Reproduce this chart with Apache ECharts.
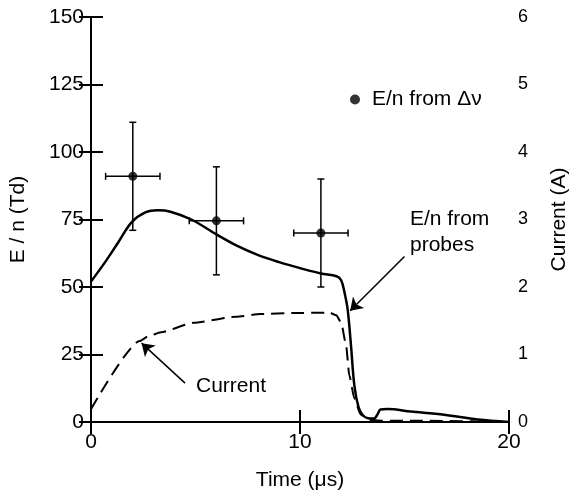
<!DOCTYPE html>
<html>
<head>
<meta charset="utf-8">
<script src="https://cdn.jsdelivr.net/npm/echarts@6/dist/echarts.min.js"></script>
<style>
html,body{margin:0;padding:0;background:#fff;}
#chart{width:578px;height:496px;}
</style>
</head>
<body>
<div id="chart"></div>
<script>
// E/n from probes (left axis, Td)
const probeT = [0, 0.7, 1.3, 1.95, 2.6, 3.2, 3.8, 4.8, 6.0, 7.0, 8.0, 9.0, 10.0, 11.0, 11.75, 11.97, 12.13, 12.28, 12.44, 12.6, 12.8, 13.0, 13.25, 13.55, 13.72, 13.85, 14.2, 15.3, 16.9, 18.5, 20];
const probeE = [52, 59.5, 66.5, 74, 77.6, 78.4, 77.9, 75, 69.5, 65.2, 61.8, 59.2, 57, 55, 54, 52.5, 48, 41.7, 28.3, 13.6, 5.5, 2.6, 1.4, 1.3, 3.0, 4.6, 4.8, 3.9, 2.7, 0.9, 0];
// Current (right axis, A)
const curT = [0, 2.33, 2.75, 3.35, 4.9, 6.95, 8.1, 9.7, 11.42, 11.74, 11.97, 12.2, 12.36, 12.6, 12.9, 13.3, 13.9, 15.6, 20];
const curA = [0.19, 1.2, 1.27, 1.33, 1.47, 1.56, 1.6, 1.615, 1.62, 1.58, 1.47, 1.15, 0.69, 0.35, 0.11, 0.03, 0.02, 0.02, 0];
// E/n from Δν points with error bars
const ptT = [2, 6, 11];
const ptE = [91, 74.5, 70];
const ptElo = [71, 54.5, 50];
const ptEhi = [111, 94.5, 90];
const ptTlo = [0.7, 4.7, 9.7];
const ptThi = [3.3, 7.3, 12.3];
// ticks
const xTicks = [0, 10, 20];
const yLeftTicks = [0, 25, 50, 75, 100, 125, 150];
const yRightTicks = [0, 1, 2, 3, 4, 5, 6];

const FONT = "'Liberation Sans', Arial, Helvetica, sans-serif";
const chart = echarts.init(document.getElementById('chart'));

const probeData = probeT.map((t, i) => [t, probeE[i]]);
const curData = curT.map((t, i) => [t, curA[i]]);
const ptData = ptT.map((t, i) => [t, ptE[i]]);
const errData = ptT.map((t, i) => [t, ptE[i], ptElo[i], ptEhi[i], ptTlo[i], ptThi[i]]);

const axisLine = {show: true, lineStyle: {color: '#000', width: 2}};
const tick = {show: true, inside: true, length: 12, lineStyle: {color: '#000', width: 2}};
const lbl = {color: '#000', fontFamily: FONT, fontSize: 21};

chart.setOption({
  animation: false,
  backgroundColor: '#fff',
  textStyle: {fontFamily: FONT},
  grid: {left: 90, right: 62, top: 17, bottom: 69},
  legend: {
    show: true,
    data: [{name: 'E/n from Δν', icon: 'circle'}],
    left: 345, top: 84,
    itemWidth: 10, itemHeight: 10,
    textStyle: {color: '#000', fontFamily: FONT, fontSize: 21, padding: [0, 0, 0, 7]},
    selectedMode: false
  },
  xAxis: [
    {type: 'value', position: 'bottom', min: 0, max: 20, interval: 10,
     name: 'Time (μs)', nameLocation: 'middle', nameGap: 48,
     nameTextStyle: lbl,
     axisLine: axisLine, axisTick: tick,
     axisLabel: Object.assign({margin: 10, formatter: v => xTicks.includes(v) ? String(v) : ''}, lbl),
     splitLine: {show: false}},
    {type: 'value', position: 'top', min: 0, max: 20, interval: 10,
     axisLine: axisLine, axisTick: tick,
     axisLabel: {show: false}, splitLine: {show: false}}
  ],
  yAxis: [
    {type: 'value', position: 'left', min: 0, max: 150, interval: 25,
     name: 'E / n (Td)', nameLocation: 'middle', nameGap: 62,
     nameTextStyle: lbl,
     axisLine: axisLine, axisTick: tick,
     axisLabel: Object.assign({margin: 7, formatter: v => yLeftTicks.includes(v) ? String(v) : ''}, lbl),
     splitLine: {show: false}},
    {type: 'value', position: 'right', min: 0, max: 6, interval: 1,
     name: 'Current (A)', nameLocation: 'middle', nameGap: 40,
     nameTextStyle: lbl,
     axisLine: axisLine, axisTick: tick,
     axisLabel: {margin: 9, color: '#000', fontFamily: FONT, fontSize: 18,
                 formatter: v => yRightTicks.includes(v) ? String(v) : ''},
     splitLine: {show: false}}
  ],
  series: [
    {name: 'E/n from probes', type: 'line', xAxisIndex: 0, yAxisIndex: 0, data: probeData,
     smooth: 0.35, showSymbol: false, symbol: 'none',
     lineStyle: {color: '#000', width: 2.5},
     markLine: {
       silent: true, symbol: ['none', 'arrow'], symbolSize: 12, label: {show: false},
       lineStyle: {color: '#000', width: 1.5, type: 'solid'},
       data: [
         [{coord: [4.5, 14.4]}, {coord: [2.42, 29.2]}],
         [{coord: [15.0, 61.3]}, {coord: [12.4, 41.2]}]
       ]
     }},
    {name: 'Current', type: 'line', xAxisIndex: 0, yAxisIndex: 1, data: curData,
     smooth: 0.2, smoothMonotone: 'x', showSymbol: false, symbol: 'none',
     lineStyle: {color: '#000', width: 2, type: [13, 7]}},
    {name: 'errbars', type: 'custom', xAxisIndex: 0, yAxisIndex: 0, data: errData,
     renderItem: function (params, api) {
       const x = api.value(0), y = api.value(1);
       const pLo = api.coord([x, api.value(2)]);
       const pHi = api.coord([x, api.value(3)]);
       const pL = api.coord([api.value(4), y]);
       const pR = api.coord([api.value(5), y]);
       const c = 3.5;
       const st = {stroke: '#000', lineWidth: 1.5};
       const L = (x1, y1, x2, y2) => ({type: 'line', shape: {x1, y1, x2, y2}, style: st});
       return {type: 'group', children: [
         L(pLo[0], pLo[1], pHi[0], pHi[1]),
         L(pLo[0] - c, pLo[1], pLo[0] + c, pLo[1]),
         L(pHi[0] - c, pHi[1], pHi[0] + c, pHi[1]),
         L(pL[0], pL[1], pR[0], pR[1]),
         L(pL[0], pL[1] - c, pL[0], pL[1] + c),
         L(pR[0], pR[1] - c, pR[0], pR[1] + c)
       ]};
     }},
    {name: 'E/n from Δν', type: 'scatter', xAxisIndex: 0, yAxisIndex: 0, data: ptData,
     symbol: 'circle', symbolSize: 9, itemStyle: {color: '#000'}}
  ],
  graphic: [
    {type: 'text', left: 196, top: 376, style: {text: 'Current', fill: '#000', font: '21px ' + FONT}},
    {type: 'text', left: 410, top: 206, style: {text: 'E/n from\nprobes', fill: '#000', font: '21px ' + FONT, lineHeight: 26}}
  ]
});
</script>
</body>
</html>
